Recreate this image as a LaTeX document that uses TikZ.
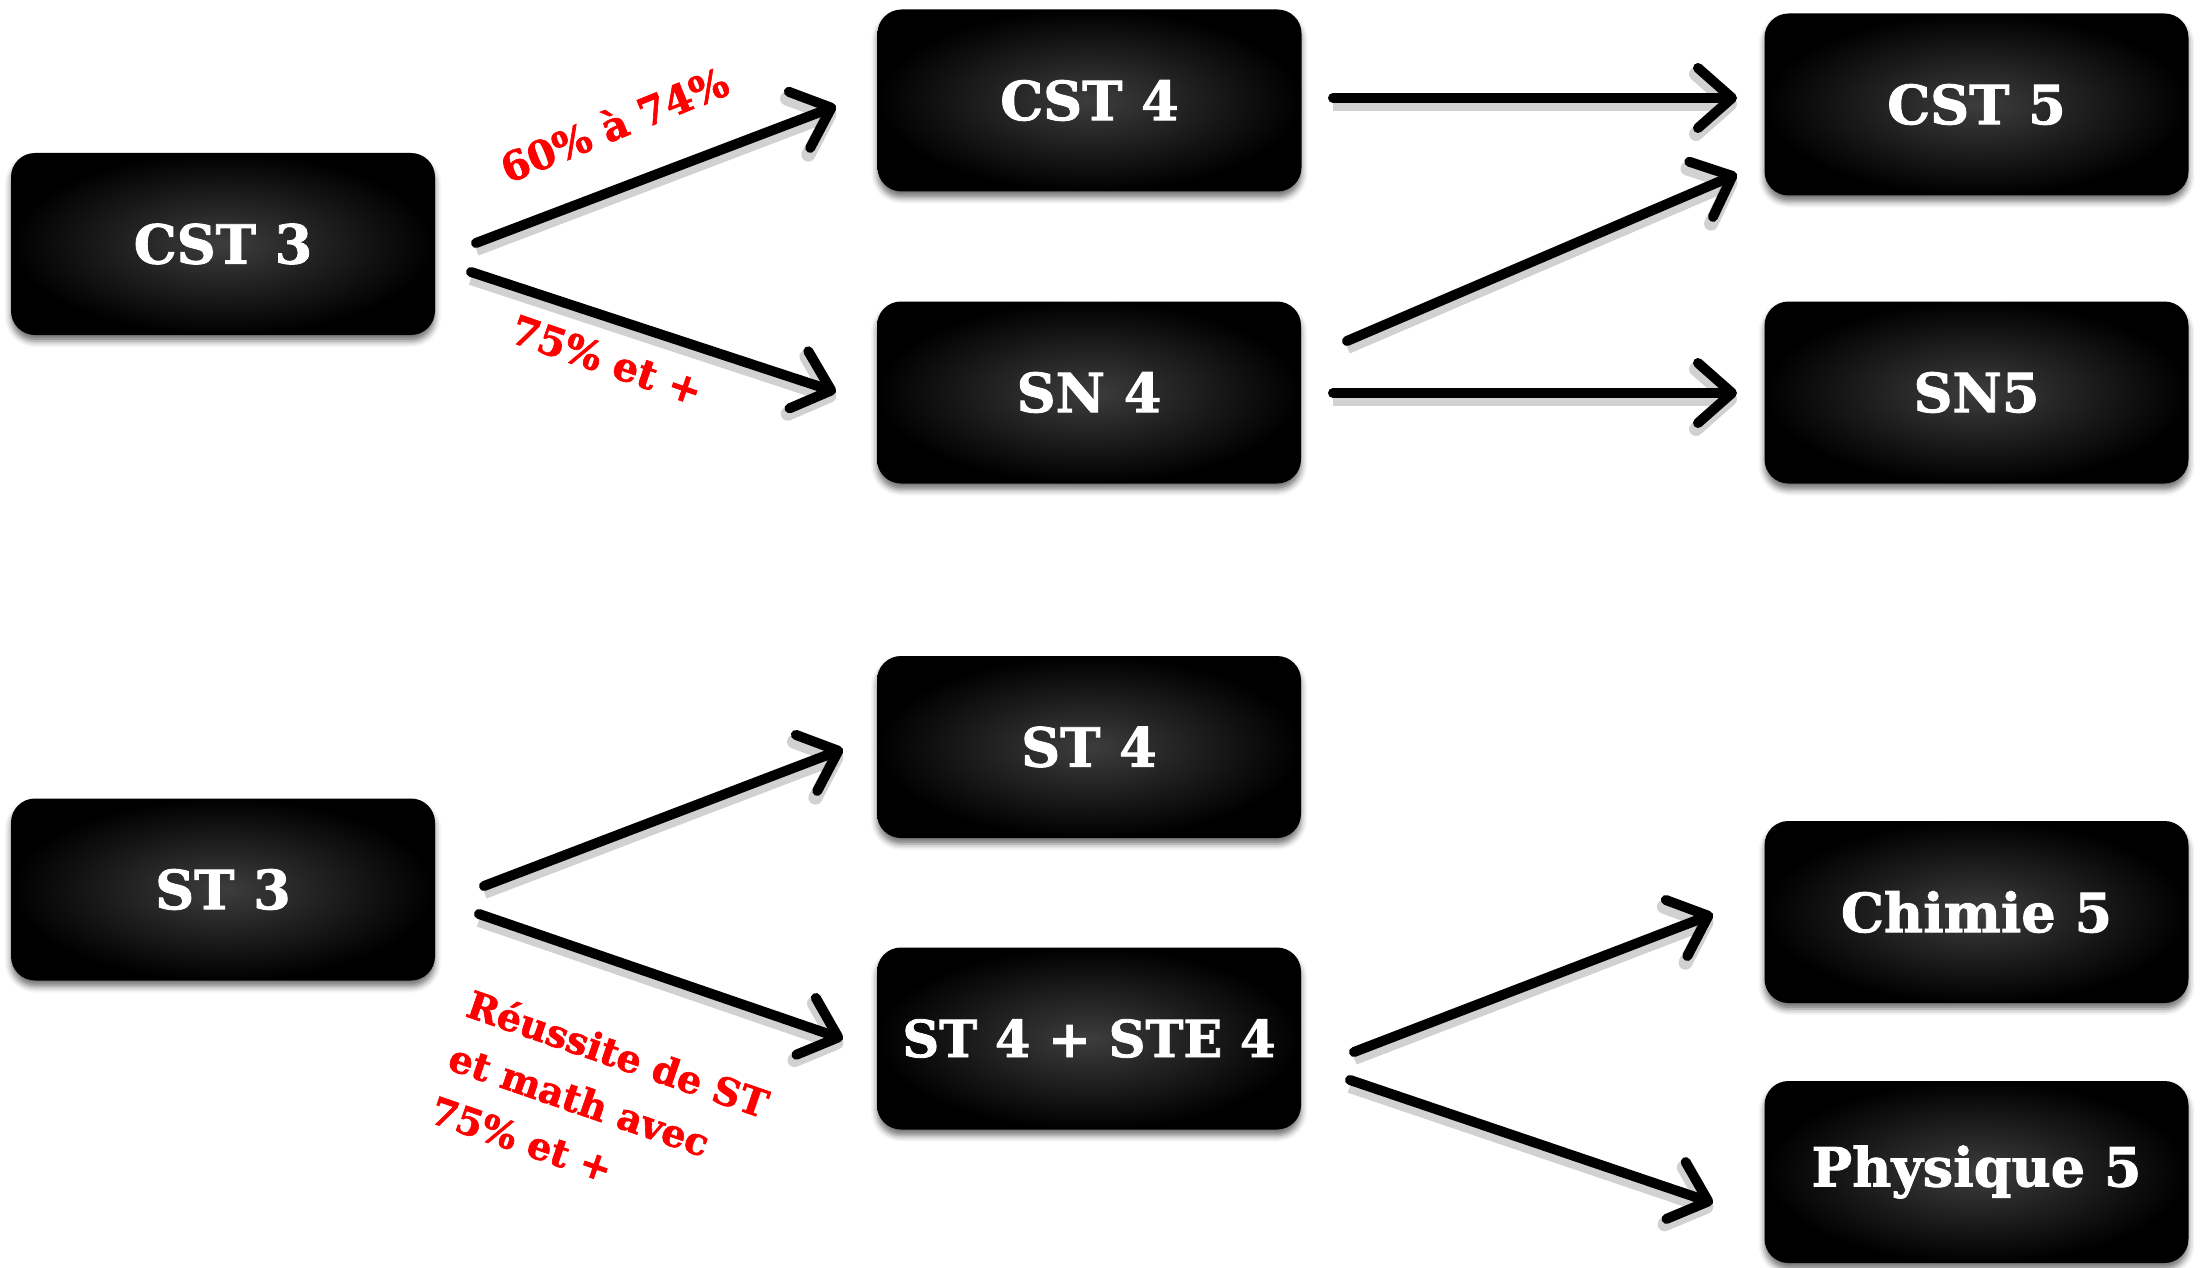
\documentclass[tikz,border=0pt]{standalone}
\usepackage{fontspec}
\setmainfont{DejaVu Serif}[BoldFeatures={FakeBold=1.6}]
\usetikzlibrary{arrows.meta,shadows.blur}
\begin{document}
\begin{tikzpicture}[x=0.5pt,y=-0.5pt,
  box/.style={rounded corners=12pt, minimum width=212pt, minimum height=91pt, inner sep=0pt,
    shading=radial, inner color=black!76, outer color=black, text=white,
    font=\fontsize{27}{32}\selectfont\bfseries,
    blur shadow={shadow xshift=0pt, shadow yshift=-3pt, shadow blur radius=3pt, shadow opacity=55}},
  arr/.style={line width=5pt, line cap=round, line join=round,
    -{Straight Barb[length=17pt,width=30pt,line cap=round,line join=round]},
    preaction={draw=black, opacity=0.18, line width=7pt, transform canvas={yshift=-3pt}}},
  lab/.style={text=red, font=\fontsize{20}{23}\selectfont\bfseries, inner sep=0pt}]
\useasboundingbox (0,0) rectangle (2202,1268);
\node[box] (cst3) at (223,244) {CST 3};
\node[box] (cst4) at (1089.5,100.5) {CST 4};
\node[box] (cst5) at (1976.5,104.5) {CST 5};
\node[box] (sn4) at (1089,392.5) {SN 4};
\node[box] (sn5) at (1976.5,392.5) {SN5};
\node[box] (st3) at (223,889.5) {ST 3};
\node[box] (st4) at (1089,747) {ST 4};
\node[box, font=\fontsize{25.5}{30}\selectfont\bfseries] (ste4) at (1089,1038.5) {ST 4 + STE 4};
\node[box] (chim5) at (1976.5,912) {Chimie 5};
\node[box] (phys5) at (1976.5,1172) {Physique 5};
% connector ends
\coordinate (a1s) at (476,243); \coordinate (a1e) at (836,106);
\coordinate (a2s) at (471,272); \coordinate (a2e) at (836,392);
\coordinate (a3s) at (1333,98); \coordinate (a3e) at (1737,98);
\coordinate (a4s) at (1347,341); \coordinate (a4e) at (1737,174);
\coordinate (a5s) at (1333,393); \coordinate (a5e) at (1737,393);
\coordinate (a6s) at (484,886); \coordinate (a6e) at (843,749);
\coordinate (a7s) at (479,914); \coordinate (a7e) at (843,1039);
\coordinate (a8s) at (1354,1052); \coordinate (a8e) at (1713,914);
\coordinate (a9s) at (1350,1080); \coordinate (a9e) at (1713,1203);
\draw[arr] (a1s) -- (a1e);
\draw[arr] (a2s) -- (a2e);
\draw[arr] (a3s) -- (a3e);
\draw[arr] (a4s) -- (a4e);
\draw[arr] (a5s) -- (a5e);
\draw[arr] (a6s) -- (a6e);
\draw[arr] (a7s) -- (a7e);
\draw[arr] (a8s) -- (a8e);
\draw[arr] (a9s) -- (a9e);
\node[lab, rotate=22] (l1) at (614,124) {60\% à 74\%};
\node[lab, rotate=-19] (l2) at (607,360) {75\% et +};
\node[lab, rotate=-19, align=left, font=\fontsize{19}{28}\selectfont\bfseries] (l3) at (600,1106) {Réussite de ST\\et math avec\\75\% et +};
\end{tikzpicture}
\end{document}
